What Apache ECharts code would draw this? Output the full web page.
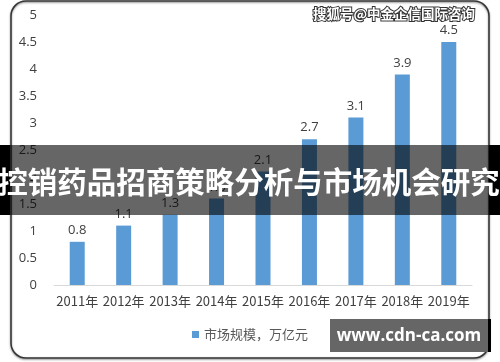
<!DOCTYPE html>
<html><head><meta charset="utf-8">
<script src="https://cdn.jsdelivr.net/npm/echarts@6/dist/echarts.min.js"></script>
<style>html,body{margin:0;padding:0;background:#fff}#c{width:500px;height:362px}</style>
</head><body><div id="c"></div>
<script>
const categories = ['2011年','2012年','2013年','2014年','2015年','2016年','2017年','2018年','2019年'];
const marketSize = [0.8, 1.1, 1.3, 1.6, 2.1, 2.7, 3.1, 3.9, 4.5];
const yTicks = [0, 0.5, 1, 1.5, 2, 2.5, 3, 3.5, 4, 4.5, 5];
const seriesName = '市场规模，万亿元';
const bannerTitle = '控销药品招商策略分析与市场机会研究';
const watermark = '搜狐号@中金企信国际咨询';
const siteText = 'www.cdn-ca.com';

const chart = echarts.init(document.getElementById('c'), null, {renderer:'canvas'});
const cjk = '"Noto Sans CJK SC","Noto Sans",sans-serif';
chart.setOption({
  animation:false,
  backgroundColor:'#fff',
  grid:{left:54, right:28, top:15, bottom:77, containLabel:false},
  legend:{
    data:[seriesName], bottom:16, left:'center', itemWidth:7, itemHeight:7, itemGap:6,
    icon:'rect',
    textStyle:{color:'#595959', fontSize:13, fontFamily:cjk}
  },
  xAxis:{
    type:'category', data:categories,
    axisLine:{lineStyle:{color:'#d9d9d9', width:1}},
    axisTick:{show:false},
    axisLabel:{color:'#404040', fontSize:13, margin:10, interval:0, fontFamily:cjk}
  },
  yAxis:{
    type:'value', min:0, max:5, interval:0.5,
    splitLine:{show:false}, axisLine:{show:false}, axisTick:{show:false},
    axisLabel:{color:'#404040', fontSize:13, margin:17, fontFamily:'"Open Sans","Noto Sans",sans-serif',
      formatter:v => yTicks.includes(v) ? String(v) : ''}
  },
  series:[{
    name:seriesName, type:'bar', data:marketSize, barWidth:15,
    itemStyle:{color:'#5B9BD5'},
    label:{show:true, position:'top', distance:5, color:'#404040', fontSize:13,
      fontFamily:'"Open Sans","Noto Sans",sans-serif'}
  }],
  graphic:[
    {type:'rect', z:100, shape:{x:11, y:1, width:478, height:357, r:15},
      style:{fill:'none', stroke:'#333', lineWidth:1.5, shadowColor:'rgba(0,0,0,0.5)', shadowBlur:2, shadowOffsetY:1}},
    {type:'text', z:100, left:312, top:6,
      style:{text:watermark, fill:'#fff', stroke:'#333', lineWidth:2, fontSize:13.5, fontWeight:'bold', fontFamily:cjk}},
    {type:'rect', z:110, shape:{x:0, y:145, width:500, height:70}, style:{fill:'rgba(0,0,0,0.6)'}},
    {type:'rect', z:111, shape:{x:0, y:145, width:10, height:70}, style:{fill:'#000'}},
    {type:'rect', z:111, shape:{x:489, y:145, width:11, height:70}, style:{fill:'#000'}},
    {type:'text', z:120, x:249, y:182,
      style:{text:bannerTitle, fill:'#fff', fontSize:29.5, fontWeight:'bold', fontFamily:cjk, align:'center', verticalAlign:'middle'}},
    {type:'rect', z:110, shape:{x:333, y:319, width:158, height:33}, style:{fill:'#000'}},
    {type:'rect', z:111, shape:{x:330, y:319, width:158, height:33}, style:{fill:'#666'}},
    {type:'text', z:120, x:409, y:336,
      style:{text:siteText, fill:'#fff', fontSize:17, fontWeight:'bold', fontFamily:'"Open Sans","Noto Sans",sans-serif', align:'center', verticalAlign:'middle'}}
  ]
});
</script></body></html>
